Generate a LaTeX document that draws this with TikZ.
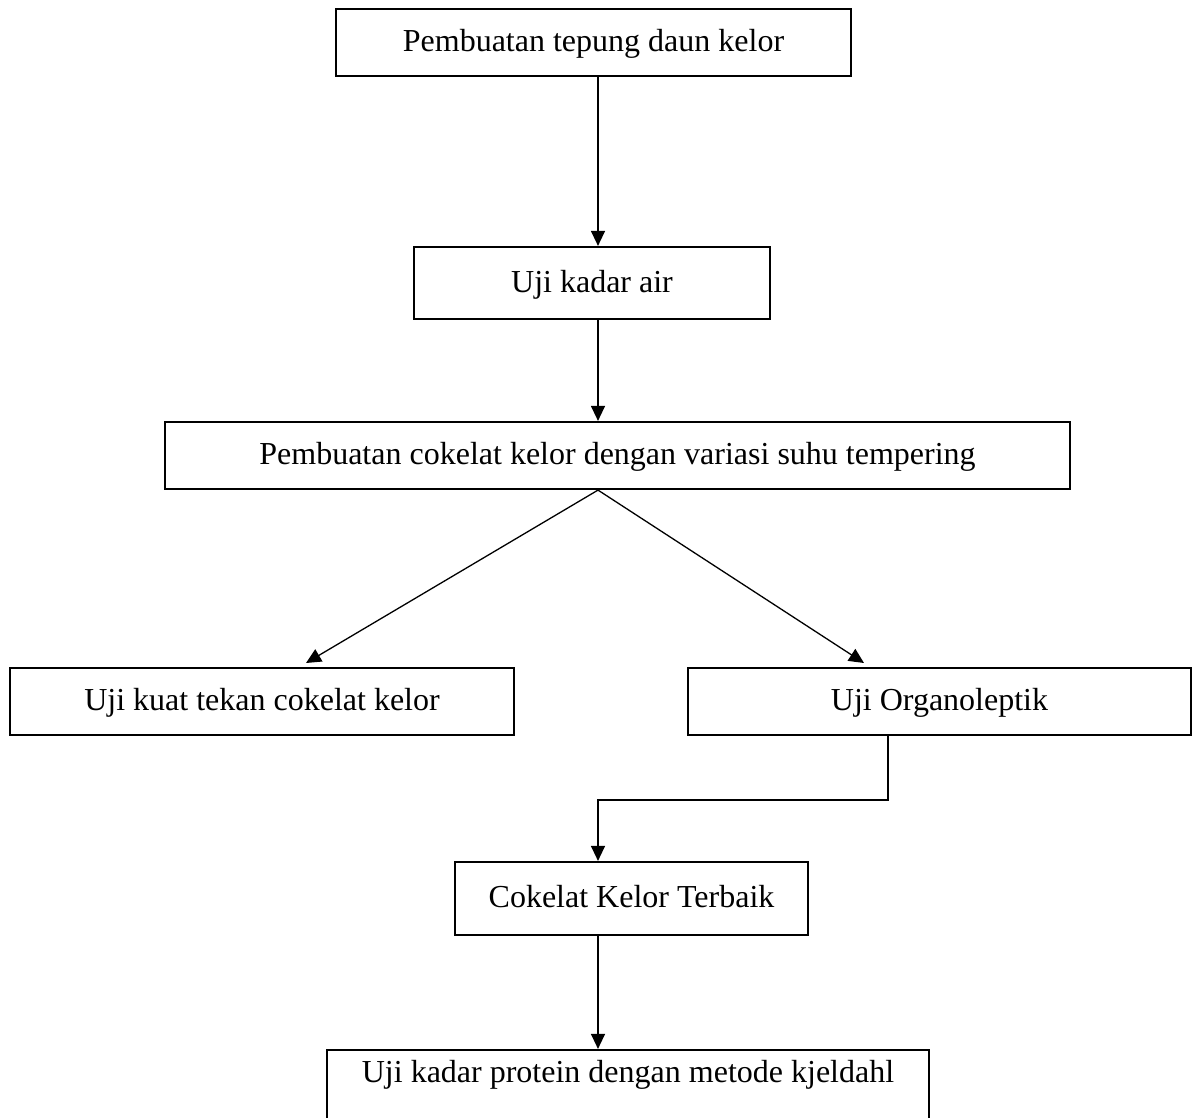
\documentclass[tikz,border=0pt]{standalone}
\usepackage{fontspec}
\setmainfont{Liberation Serif}
\usetikzlibrary{arrows.meta}
\begin{document}
\begin{tikzpicture}[x=1pt,y=-1pt,
 box/.style={draw,line width=2.2pt,rectangle,inner sep=0pt,font=\fontsize{32}{38}\selectfont,text height=22pt,text depth=4pt,anchor=center},
 arr/.style={line width=1.3pt,-{Triangle[length=15pt,width=14pt]}}]
\useasboundingbox[fill=white] (0,0) rectangle (1192,1118);
\node[box,minimum width=515pt,minimum height=67pt] (b1) at (593.5,42.5) {Pembuatan tepung daun kelor};
\node[box,minimum width=356pt,minimum height=72pt] (b2) at (592,283) {Uji kadar air};
\node[box,minimum width=905pt,minimum height=67pt] (b3) at (617.5,455.5) {Pembuatan cokelat kelor dengan variasi suhu tempering};
\node[box,minimum width=504pt,minimum height=67pt] (b4) at (262,701.5) {Uji kuat tekan cokelat kelor};
\node[box,minimum width=503pt,minimum height=67pt] (b5) at (939.5,701.5) {Uji Organoleptik};
\node[box,minimum width=353pt,minimum height=73pt] (b6) at (631.5,898.5) {Cokelat Kelor Terbaik};
\node[box,minimum width=602pt,minimum height=71pt,text depth=29pt] (b7) at (628,1085.5) {Uji kadar protein dengan metode kjeldahl};
\coordinate (ax) at (598,0);
\coordinate (t4) at (306,663);
\coordinate (t5) at (864,663);
\coordinate (ox) at (888,800);
\coordinate (hx) at (598,800);
\draw[arr] (b1.south -| ax) -- (b2.north -| ax);
\draw[arr] (b2.south -| ax) -- (b3.north -| ax);
\draw[arr] (b3.south -| ax) -- (t4);
\draw[arr] (b3.south -| ax) -- (t5);
\draw[arr] (b5.south -| ox) -- (ox) -- (hx) -- (b6.north -| hx);
\draw[arr] (b6.south -| ax) -- (b7.north -| ax);
\end{tikzpicture}
\end{document}
